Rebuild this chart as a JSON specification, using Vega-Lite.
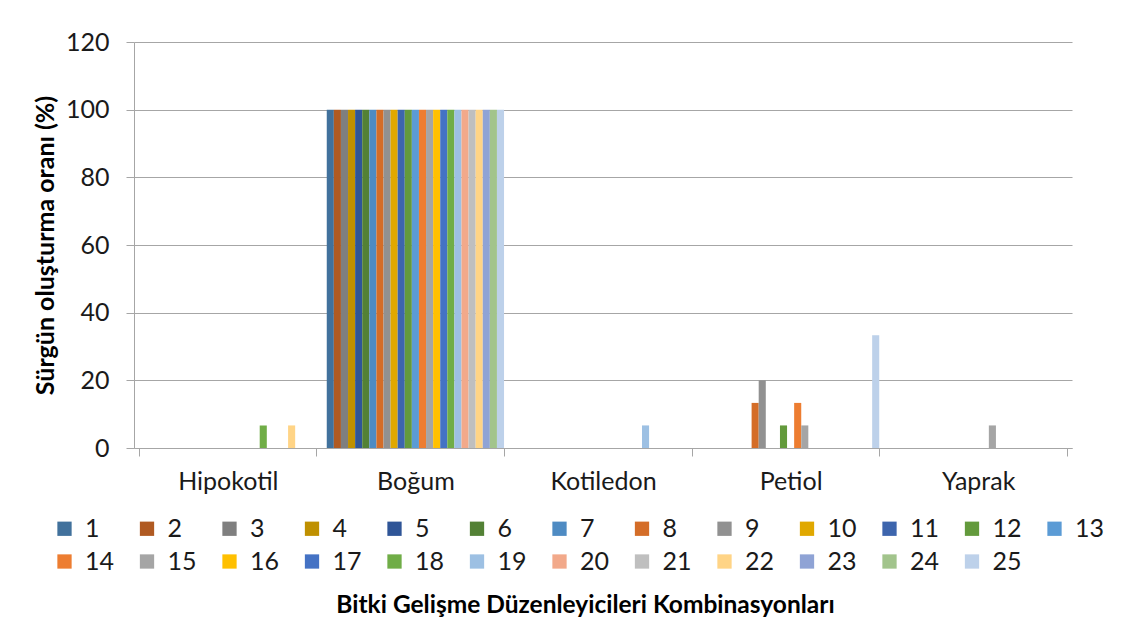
{
  "$schema": "https://vega.github.io/schema/vega-lite/v6.json",
  "width": 938,
  "height": 406,
  "autosize": {"type": "none"},
  "padding": {"left": 134, "top": 42, "right": 52, "bottom": 181},
  "background": "white",
  "config": {"view": {"stroke": null}, "font": "Lato"},
  "data": {
    "values": [
      {"organ": "Hipokotil", "combo": 18, "rate": 6.67},
      {"organ": "Hipokotil", "combo": 22, "rate": 6.67},
      {"organ": "Boğum", "combo": 1, "rate": 100},
      {"organ": "Boğum", "combo": 2, "rate": 100},
      {"organ": "Boğum", "combo": 3, "rate": 100},
      {"organ": "Boğum", "combo": 4, "rate": 100},
      {"organ": "Boğum", "combo": 5, "rate": 100},
      {"organ": "Boğum", "combo": 6, "rate": 100},
      {"organ": "Boğum", "combo": 7, "rate": 100},
      {"organ": "Boğum", "combo": 8, "rate": 100},
      {"organ": "Boğum", "combo": 9, "rate": 100},
      {"organ": "Boğum", "combo": 10, "rate": 100},
      {"organ": "Boğum", "combo": 11, "rate": 100},
      {"organ": "Boğum", "combo": 12, "rate": 100},
      {"organ": "Boğum", "combo": 13, "rate": 100},
      {"organ": "Boğum", "combo": 14, "rate": 100},
      {"organ": "Boğum", "combo": 15, "rate": 100},
      {"organ": "Boğum", "combo": 16, "rate": 100},
      {"organ": "Boğum", "combo": 17, "rate": 100},
      {"organ": "Boğum", "combo": 18, "rate": 100},
      {"organ": "Boğum", "combo": 19, "rate": 100},
      {"organ": "Boğum", "combo": 20, "rate": 100},
      {"organ": "Boğum", "combo": 21, "rate": 100},
      {"organ": "Boğum", "combo": 22, "rate": 100},
      {"organ": "Boğum", "combo": 23, "rate": 100},
      {"organ": "Boğum", "combo": 24, "rate": 100},
      {"organ": "Boğum", "combo": 25, "rate": 100},
      {"organ": "Kotiledon", "combo": 19, "rate": 6.67},
      {"organ": "Petiol", "combo": 8, "rate": 13.33},
      {"organ": "Petiol", "combo": 9, "rate": 20},
      {"organ": "Petiol", "combo": 12, "rate": 6.67},
      {"organ": "Petiol", "combo": 14, "rate": 13.33},
      {"organ": "Petiol", "combo": 15, "rate": 6.67},
      {"organ": "Petiol", "combo": 25, "rate": 33.33},
      {"organ": "Yaprak", "combo": 15, "rate": 6.67}
    ]
  },
  "mark": {"type": "bar"},
  "encoding": {
    "x": {
      "field": "organ",
      "type": "nominal",
      "sort": ["Hipokotil", "Boğum", "Kotiledon", "Petiol", "Yaprak"],
      "scale": {"paddingInner": 0.055, "paddingOuter": 0.0275},
      "axis": {
        "title": "Bitki Gelişme Düzenleyicileri Kombinasyonları",
        "titleFont": "Lato",
        "titleFontWeight": "bold",
        "titleFontSize": 24.5,
        "titleColor": "#000000",
        "titleX": 451,
        "titleY": 157,
        "titleBaseline": "middle",
        "titleAlign": "center",
        "labelAngle": 0,
        "labelFontSize": 25,
        "labelColor": "#1a1a1a",
        "labelPadding": 13,
        "tickBand": "extent",
        "tickSize": 8,
        "tickColor": "#A6A6A6",
        "domainColor": "#A6A6A6",
        "grid": false
      }
    },
    "xOffset": {
      "field": "combo",
      "type": "ordinal",
      "scale": {
        "domain": [1, 2, 3, 4, 5, 6, 7, 8, 9, 10, 11, 12, 13, 14, 15, 16, 17, 18, 19, 20, 21, 22, 23, 24, 25],
        "paddingInner": 0,
        "paddingOuter": 0
      }
    },
    "y": {
      "field": "rate",
      "type": "quantitative",
      "scale": {"domain": [0, 120]},
      "axis": {
        "values": [0, 20, 40, 60, 80, 100, 120],
        "title": "Sürgün oluşturma oranı (%)",
        "titleFont": "Lato",
        "titleFontWeight": "bold",
        "titleFontSize": 25,
        "titleColor": "#000000",
        "titleX": -89,
        "titleBaseline": "middle",
        "labelFontSize": 25,
        "labelColor": "#1a1a1a",
        "labelPadding": 17,
        "tickSize": 8,
        "tickColor": "#A6A6A6",
        "domainColor": "#A6A6A6",
        "grid": true,
        "gridColor": "#A6A6A6",
        "gridWidth": 1.2
      }
    },
    "color": {
      "field": "combo",
      "type": "ordinal",
      "scale": {
        "domain": [1, 2, 3, 4, 5, 6, 7, 8, 9, 10, 11, 12, 13, 14, 15, 16, 17, 18, 19, 20, 21, 22, 23, 24, 25],
        "range": ["#41719C", "#B05A22", "#7F7F7F", "#BF9000", "#2F5597", "#538135", "#4E8BC3", "#D46D28", "#919191", "#E0A800", "#3D65AD", "#639A3C", "#5B9BD5", "#ED7D31", "#A5A5A5", "#FFC000", "#4472C4", "#70AD47", "#9DC0E3", "#F2A98A", "#BFBFBF", "#FFD486", "#8FA3D5", "#A2C48C", "#BDD1EA"]
      },
      "legend": {
        "orient": "none",
        "direction": "horizontal",
        "legendX": -82,
        "legendY": 474,
        "columns": 13,
        "title": null,
        "symbolType": "square",
        "symbolSize": 204,
        "symbolStrokeWidth": 0,
        "labelFontSize": 25,
        "labelColor": "#1a1a1a",
        "labelOffset": 8,
        "columnPadding": 19.5,
        "rowPadding": 7
      }
    }
  }
}
